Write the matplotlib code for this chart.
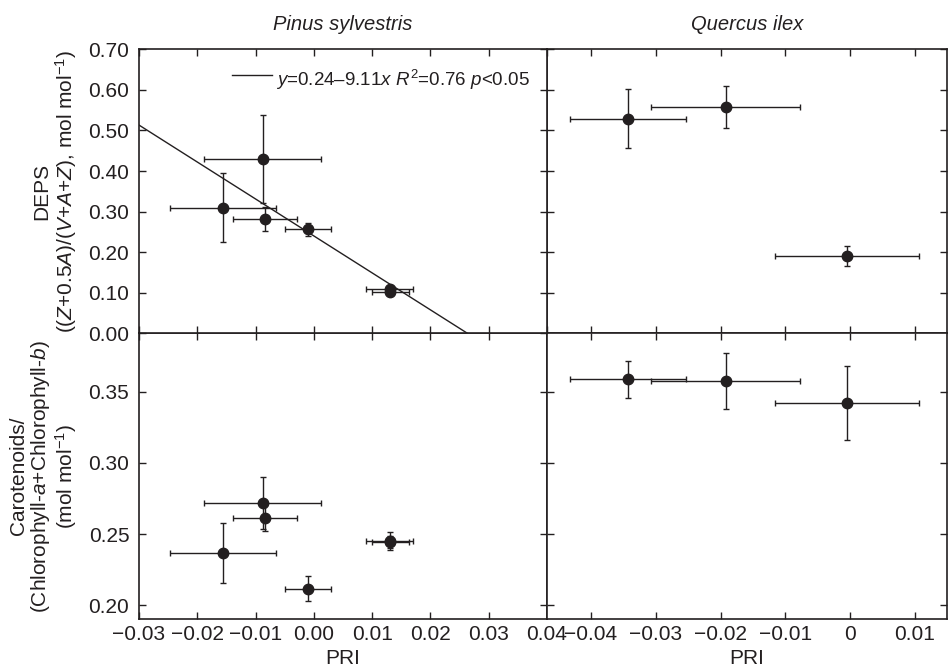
import matplotlib
matplotlib.use("Agg")
import matplotlib.pyplot as plt
import numpy as np

plt.rcParams['font.family'] = ['Liberation Sans', 'DejaVu Sans']
plt.rcParams['mathtext.fontset'] = 'custom'
plt.rcParams['mathtext.rm'] = 'Liberation Sans'
plt.rcParams['mathtext.it'] = 'Liberation Sans:italic'
plt.rcParams['font.size'] = 15
plt.rcParams['axes.unicode_minus'] = True

INK = '#231f20'

# Pinus sylvestris
ps_pri = [-0.0156, -0.0088, -0.0084, -0.0010, 0.0130, 0.0131]
ps_pri_err = [0.0091, 0.0101, 0.0055, 0.0040, 0.0040, 0.0032]
ps_deps = [0.310, 0.430, 0.281, 0.257, 0.108, 0.101]
ps_deps_err = [0.085, 0.108, 0.030, 0.016, 0.005, 0.004]
ps_car = [0.2367, 0.2718, 0.2615, 0.2117, 0.2452, 0.2446]
ps_car_err = [0.0210, 0.0185, 0.0090, 0.0087, 0.0065, 0.0040]

# Quercus ilex
qi_pri = [-0.0343, -0.0192, -0.0005]
qi_pri_err = [0.0090, 0.0115, 0.0111]
qi_deps = [0.529, 0.558, 0.191]
qi_deps_err = [0.073, 0.052, 0.025]
qi_car = [0.3587, 0.3575, 0.3423]
qi_car_err = [0.0128, 0.0200, 0.0260]

# regression DEPS vs PRI for Pinus
fit_a, fit_b = 0.24, -9.11
fit_text = r'$y$=0.24–9.11$x$ $R^2$=0.76 $p$<0.05'

fig = plt.figure(figsize=(9.48, 6.69), dpi=100)
ax_tl = fig.add_axes([0.1466, 0.5018, 0.4304, 0.4245])
ax_tr = fig.add_axes([0.5770, 0.5018, 0.4216, 0.4245])
ax_bl = fig.add_axes([0.1466, 0.0747, 0.4304, 0.4271])
ax_br = fig.add_axes([0.5770, 0.0747, 0.4216, 0.4271])
# keep the fit label on top of the right-hand panel
ax_tl.set_zorder(3)


def points(ax, x, xe, y, ye):
    ax.errorbar(x, y, xerr=xe, yerr=ye, fmt='o', color=INK, ms=7.5,
                ecolor=INK, elinewidth=1.0, capsize=2.5, capthick=1.0)


points(ax_tl, ps_pri, ps_pri_err, ps_deps, ps_deps_err)
points(ax_bl, ps_pri, ps_pri_err, ps_car, ps_car_err)
points(ax_tr, qi_pri, qi_pri_err, qi_deps, qi_deps_err)
points(ax_br, qi_pri, qi_pri_err, qi_car, qi_car_err)

xf = np.array([-0.03, -fit_a / fit_b])
ax_tl.plot(xf, fit_a + fit_b * xf, color=INK, lw=1.0)

# key for the fit line: short sample line with the equation after it
ax_tl.plot([0.229, 0.327], [0.909, 0.909], transform=ax_tl.transAxes,
           color=INK, lw=1.0, clip_on=False)
ax_tl.text(0.335, 0.87, fit_text, transform=ax_tl.transAxes, fontsize=13.5,
           color=INK, ha='left', va='baseline', clip_on=False)

left_ticks = np.arange(-0.03, 0.0401, 0.01)
right_ticks = [-0.04, -0.03, -0.02, -0.01, 0.0, 0.01]
right_labels = ['\u22120.04', '\u22120.03', '\u22120.02', '\u22120.01', '0', '0.01']

for ax in (ax_tl, ax_bl):
    ax.set_xlim(-0.03, 0.04)
    ax.set_xticks(left_ticks)
for ax in (ax_tr, ax_br):
    ax.set_xlim(-0.0468, 0.0149)
    ax.set_xticks(right_ticks)

for ax in (ax_tl, ax_tr):
    ax.set_ylim(0, 0.70)
    ax.set_yticks(np.arange(0, 0.701, 0.1))
    ax.set_xticklabels([])
for ax in (ax_bl, ax_br):
    ax.set_ylim(0.1904, 0.391)
    ax.set_yticks([0.20, 0.25, 0.30, 0.35])

ax_tl.set_yticklabels(['%.2f' % v for v in np.arange(0, 0.701, 0.1)])
ax_bl.set_yticklabels(['0.20', '0.25', '0.30', '0.35'])
ax_bl.set_xticklabels([('%.2f' % v).replace('-', '\u2212') for v in left_ticks])
ax_br.set_xticklabels(right_labels)
ax_tr.set_yticklabels([])
ax_br.set_yticklabels([])

for ax in (ax_tl, ax_tr, ax_bl, ax_br):
    ax.tick_params(direction='in', top=True, right=True, length=5, width=1,
                   colors=INK, labelsize=15, pad=4)
    ax.tick_params(axis='y', pad=7)
    for s in ax.spines.values():
        s.set_linewidth(1.2)
        s.set_color(INK)

ax_tl.set_title('Pinus sylvestris', style='italic', fontsize=14.5, color=INK, pad=14)
ax_tr.set_title('Quercus ilex', style='italic', fontsize=14.5, color=INK, pad=14)

ax_bl.set_xlabel('PRI', color=INK, labelpad=4)
ax_br.set_xlabel('PRI', color=INK, labelpad=4)

ax_tl.set_ylabel('DEPS\n(($Z$+0.5$A$)/($V$+$A$+$Z$), mol mol$^{-1}$)',
                 color=INK, multialignment='center', linespacing=1.05)
ax_tl.yaxis.set_label_coords(-0.148, 0.5)
ax_bl.set_ylabel('Carotenoids/\n(Chlorophyll-$a$+Chlorophyll-$b$)\n(mol mol$^{-1}$)',
                 color=INK, multialignment='center', linespacing=1.05)
ax_bl.yaxis.set_label_coords(-0.148, 0.5)

fig.savefig('out.png', dpi=100)
